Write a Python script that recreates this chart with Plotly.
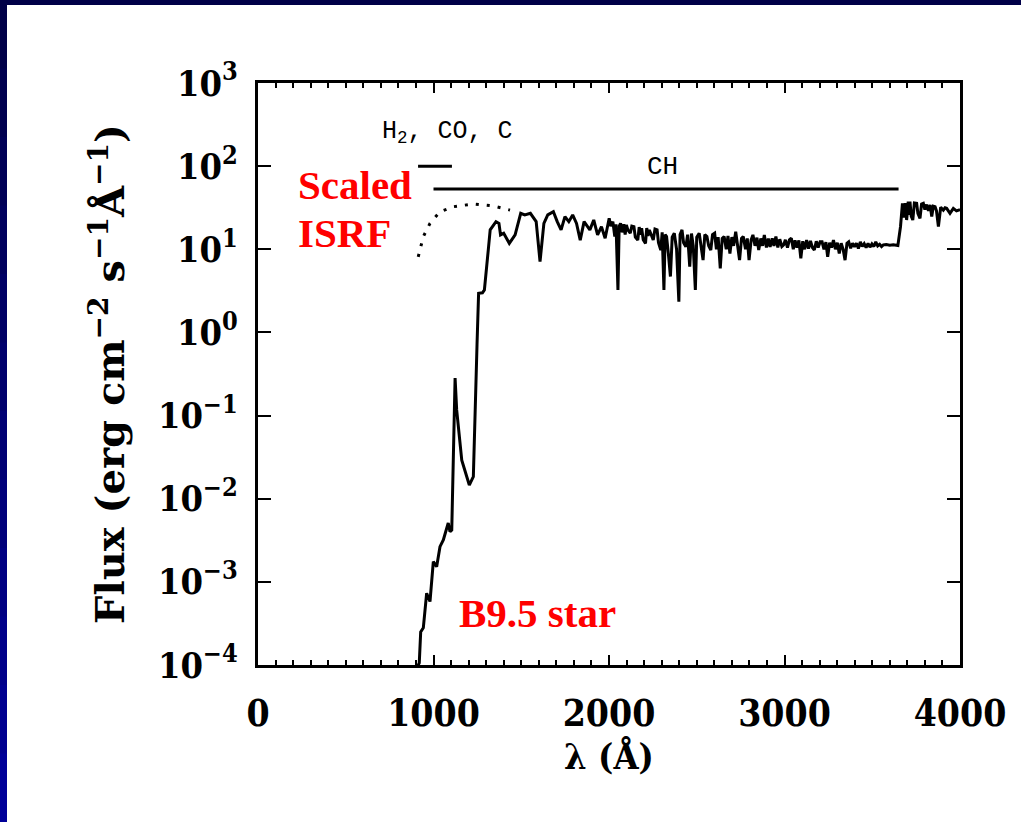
import plotly.graph_objects as go

# ---------------- data ----------------
# B9.5 star spectrum (wavelength in Angstrom, flux in erg cm^-2 s^-1 A^-1)
star_wave = [900, 919, 927, 942, 961, 980, 999, 1018, 1037, 1056, 1084, 1094, 1104,
             1123, 1132, 1161, 1204, 1227, 1248, 1257, 1279, 1290, 1312, 1323, 1356,
             1373, 1382, 1400, 1432, 1465, 1497, 1520, 1552, 1585, 1607, 1629, 1651,
             1683, 1705, 1727, 1749, 1771, 1793, 1815, 1836, 1858, 1891, 1913, 1935,
             1957, 1978,
             2001, 2010, 2022, 2033, 2040, 2051, 2058, 2066, 2075, 2085, 2092, 2099,
             2108, 2121, 2130, 2142, 2150, 2164, 2172, 2180, 2186, 2195, 2208, 2215,
             2222, 2230, 2240, 2252, 2262, 2274, 2282, 2295, 2303, 2313, 2320, 2328,
             2338, 2350, 2360, 2372, 2385, 2398, 2405, 2416, 2425, 2438, 2448, 2460,
             2470, 2480, 2492, 2500, 2514, 2524, 2536, 2546, 2558, 2568, 2580, 2590,
             2602, 2612, 2622, 2634, 2645, 2656, 2668, 2678, 2689, 2700, 2710, 2722,
             2733, 2744, 2755, 2765, 2778, 2788, 2798, 2810, 2820, 2832, 2843, 2853,
             2865, 2875, 2885, 2897, 2908, 2918, 2930, 2940, 2951, 2962, 2973, 2985,
             2995, 3005, 3017, 3028, 3039, 3050, 3060, 3071, 3082, 3093, 3104, 3115,
             3126, 3137, 3148, 3159, 3170, 3181, 3192, 3203, 3214, 3225, 3236, 3246,
             3257, 3268, 3279, 3290, 3301, 3312, 3323, 3334, 3345, 3356, 3366, 3377,
             3388, 3399, 3410, 3421, 3432, 3443, 3454, 3465, 3476, 3487, 3498, 3509,
             3520, 3531, 3542, 3553, 3563, 3580, 3600, 3620, 3646,
             3661, 3672, 3680, 3688, 3696, 3705, 3710, 3715, 3722, 3731, 3740, 3753,
             3760, 3772, 3781, 3791, 3800, 3810, 3820, 3830, 3839, 3848, 3858, 3866,
             3877, 3890, 3905, 3915, 3924, 3943, 3962, 3980, 4000]
star_flux = [8.7e-5, 1.06e-4, 2.5e-4, 2.8e-4, 7.3e-4, 5.8e-4, 1.75e-3, 1.52e-3, 2.65e-3,
             3.2e-3, 5.1e-3, 4.0e-3, 4.2e-3, 0.283, 0.117, 0.029, 0.0146, 0.0184, 0.71,
             2.96, 3.0, 3.24, 9.8, 17.1, 21.5, 20.5, 14.9, 15.6, 11.8, 14.9, 27.1, 25.9,
             27.1, 21.5, 7.1, 20.5, 25.9, 28.3, 21.5, 17.1, 24.7, 21.5, 25.9, 20.5, 12.9,
             21.5, 17.1, 22.5, 14.9, 18.7, 13.6,
             23.6, 19.0, 21.5, 14.2, 20.0, 3.24, 19.0, 20.5, 16.0, 20.0, 15.0, 19.6,
             17.0, 15.6, 19.0, 18.7, 14.0, 12.9, 18.5, 15.0, 17.9, 13.0, 11.8, 18.0,
             14.5, 17.1, 15.0, 12.9, 17.5, 17.1, 12.0, 9.8, 16.0, 3.24, 15.0, 14.2,
             9.0, 4.7, 14.0, 15.6, 10.0, 2.34, 15.0, 17.1, 12.0, 10.7, 15.0, 6.2,
             15.5, 11.0, 3.24, 14.0, 15.6, 11.0, 7.4, 15.0, 14.2, 11.0, 9.8, 15.0,
             15.6, 10.0, 14.0, 5.9, 13.5, 14.2, 10.0, 14.5, 8.9, 14.0, 11.0, 16.3,
             11.0, 7.4, 13.5, 14.2, 10.0, 13.5, 7.4, 13.0, 14.9, 11.0, 13.8, 9.8,
             13.5, 11.0, 14.9, 10.5, 13.5, 10.7, 13.5, 11.0, 14.2, 10.5, 13.2, 10.8,
             11.3, 13.0, 10.5, 13.0, 13.6, 10.0, 12.8, 10.5, 12.8, 7.8, 12.5, 10.0,
             12.9, 10.2, 12.6, 10.5, 9.8, 12.5, 10.5, 12.3, 12.3, 10.0, 12.2, 8.1,
             12.0, 10.5, 12.9, 10.0, 12.0, 8.9, 11.8, 10.0, 7.4, 11.8, 12.3, 10.3,
             11.8, 10.7, 11.8, 10.2, 12.3, 10.8, 11.7, 10.5, 11.8, 10.6, 11.6, 10.8,
             12.3, 11.0, 11.5, 10.8, 11.3, 11.4, 11.2, 11.3, 11.1,
             18.7, 35.7, 24.0, 36.0, 22.5, 37.4, 26.0, 37.4, 25.0, 22.5, 36.0, 35.7,
             27.0, 23.6, 35.0, 35.7, 30.0, 34.5, 29.0, 34.1, 24.7, 33.0, 32.5, 29.0,
             18.7, 32.0, 29.5, 31.5, 31.1, 27.1, 31.1, 29.0, 30.0]

# Scaled interstellar radiation field (dotted)
isrf_wave = [913, 942, 980, 1037, 1113, 1227, 1341, 1436]
isrf_flux = [8.1, 14.2, 20.5, 28.3, 32.5, 35.1, 33.2, 29.6]

# Absorption-range bars
h2_bar_wave = [912, 1105]
h2_bar_flux = [100, 100]
ch_bar_wave = [1000, 3650]
ch_bar_flux = [53.1, 53.1]

x_tickvals = [0, 1000, 2000, 3000, 4000]
x_ticktext = ["0", "1000", "2000", "3000", "4000"]
y_tickvals = [1e-4, 1e-3, 1e-2, 1e-1, 1e0, 1e1, 1e2, 1e3]
y_ticktext = ["10<sup>\u22124</sup>", "10<sup>\u22123</sup>", "10<sup>\u22122</sup>",
              "10<sup>\u22121</sup>", "10<sup>0</sup>", "10<sup>1</sup>",
              "10<sup>2</sup>", "10<sup>3</sup>"]

# ---------------- figure ----------------
SERIF_C = "DejaVu Serif Condensed, DejaVu Serif, serif"
SERIF = "DejaVu Serif, serif"
TIMES = "Liberation Serif, Times New Roman, serif"
MONO = "Liberation Mono, DejaVu Sans Mono, monospace"

fig = go.Figure()
fig.add_trace(go.Scatter(x=isrf_wave, y=isrf_flux, mode="lines",
                         line=dict(color="black", width=3, dash="3px,8px"),
                         showlegend=False, hoverinfo="skip"))
fig.add_trace(go.Scatter(x=star_wave, y=star_flux, mode="lines",
                         line=dict(color="black", width=3),
                         showlegend=False))
fig.add_trace(go.Scatter(x=h2_bar_wave, y=h2_bar_flux, mode="lines",
                         line=dict(color="black", width=3), showlegend=False))
fig.add_trace(go.Scatter(x=ch_bar_wave, y=ch_bar_flux, mode="lines",
                         line=dict(color="black", width=3), showlegend=False))

fig.update_layout(
    width=1021, height=822,
    margin=dict(l=258, r=61, t=83, b=157),
    paper_bgcolor="white", plot_bgcolor="white",
    showlegend=False,
)

fig.update_xaxes(
    range=[0, 4000], showgrid=False, zeroline=False,
    showline=True, linecolor="black", linewidth=3, mirror="ticks",
    ticks="inside", ticklen=10, tickwidth=2, tickcolor="black",
    tickvals=x_tickvals, ticktext=x_ticktext,
    tickfont=dict(family=SERIF_C, size=37, color="black", weight="bold"),
    ticklabelstandoff=14,
    minor=dict(dtick=100, ticks="inside", ticklen=5, tickwidth=2, tickcolor="black",
               showgrid=False),
    title=dict(text="<b>\u03bb (\u00c5)</b>", font=dict(family=SERIF_C, size=36, color="black"),
               standoff=6),
)
fig.update_yaxes(
    type="log", range=[-4, 3], showgrid=False, zeroline=False,
    showline=True, linecolor="black", linewidth=3, mirror="ticks",
    ticks="inside", ticklen=13, tickwidth=2, tickcolor="black",
    tickvals=y_tickvals, ticktext=y_ticktext,
    tickfont=dict(family=SERIF_C, size=36, color="black", weight="bold"),
    ticklabelstandoff=10,
    title=dict(text="<b>Flux (erg cm<sup>\u22122</sup> s<sup>\u22121</sup>\u00c5<sup>\u22121</sup>)</b>",
               font=dict(family=SERIF, size=40, color="black"), standoff=21),
)

# annotations
fig.add_annotation(x=217, y=1.773, xref="x", yref="y", text="<b>Scaled</b>",
                   showarrow=False, xanchor="left", yanchor="middle",
                   font=dict(family=TIMES, size=41, color="red"))
fig.add_annotation(x=217, y=1.196, xref="x", yref="y", text="<b>ISRF</b>",
                   showarrow=False, xanchor="left", yanchor="middle",
                   font=dict(family=TIMES, size=41, color="red"))
fig.add_annotation(x=1134, y=-3.375, xref="x", yref="y", text="<b>B9.5 star</b>",
                   showarrow=False, xanchor="left", yanchor="middle",
                   font=dict(family=TIMES, size=41, color="red"))
fig.add_annotation(x=695, y=2.41, xref="x", yref="y", text="H<sub>2</sub>, CO, C",
                   showarrow=False, xanchor="left", yanchor="middle",
                   font=dict(family=MONO, size=25, color="black"))
fig.add_annotation(x=2302, y=1.99, xref="x", yref="y", text="CH",
                   showarrow=False, xanchor="center", yanchor="middle",
                   font=dict(family=MONO, size=26, color="black"))

# slide frame (navy top and left bands)
px_w, px_h = 702.0, 582.0
def px_to_paper_x(px):
    return (px - 258) / px_w
def px_to_paper_y(py):
    return 1 - (py - 83) / px_h

fig.add_shape(type="rect", xref="paper", yref="paper",
              x0=px_to_paper_x(0), x1=px_to_paper_x(1021),
              y0=px_to_paper_y(5), y1=px_to_paper_y(0),
              fillcolor="#000048", line=dict(width=0), layer="above")
n_seg = 12
for i in range(n_seg):
    y0 = 822 * i / n_seg
    y1 = 822 * (i + 1) / n_seg + 1
    frac = i / (n_seg - 1)
    r, g, b = 0, 0, int(0x48 + frac * (0x98 - 0x48))
    fig.add_shape(type="rect", xref="paper", yref="paper",
                  x0=px_to_paper_x(0), x1=px_to_paper_x(7),
                  y0=px_to_paper_y(y1), y1=px_to_paper_y(y0),
                  fillcolor=f"rgb({r},{g},{b})", line=dict(width=0), layer="above")

fig.write_html("out.html")
